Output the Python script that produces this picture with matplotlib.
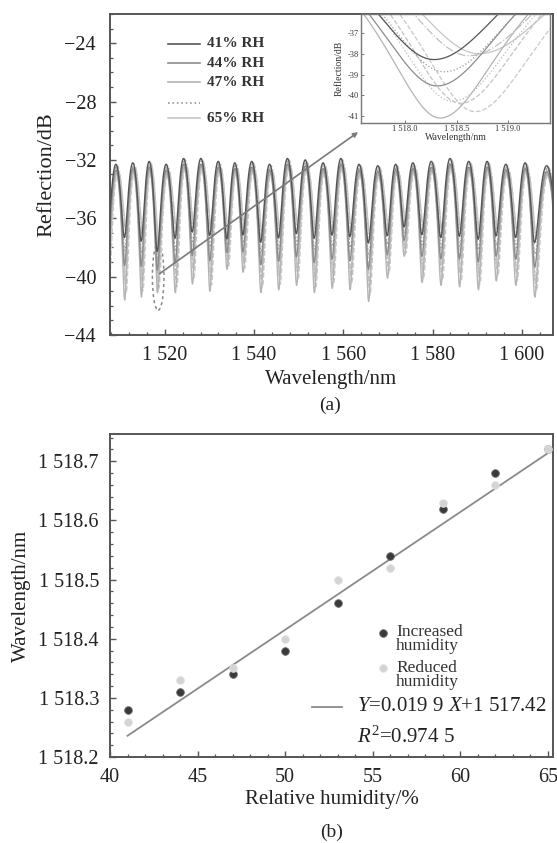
import numpy as np
import matplotlib
matplotlib.use("Agg")
import matplotlib.pyplot as plt
from matplotlib.ticker import MultipleLocator
from matplotlib.patches import Ellipse

plt.rcParams['font.family'] = ['Liberation Serif', 'DejaVu Serif']
plt.rcParams['mathtext.fontset'] = 'custom'
plt.rcParams['mathtext.rm'] = 'Liberation Serif'
plt.rcParams['mathtext.it'] = 'Liberation Serif:italic'

# ---------------- data: panel (a) ----------------
# dip (notch) wavelengths of the 41 % RH spectrum, nm (first/last lie just outside the window)
dip_wl = [1507.10, 1510.94, 1514.69, 1518.28, 1522.29, 1526.12, 1530.04, 1533.88,
          1537.48, 1541.47, 1545.47, 1549.47, 1553.46, 1557.46, 1561.46, 1565.61,
          1569.85, 1573.61, 1577.60, 1581.84, 1586.00, 1590.23, 1594.23, 1598.63,
          1602.86, 1608.30]
# deepest notch level seen at each dip, dB
dip_deep = [-41.0, -41.6, -41.4, -41.1, -41.1, -40.5, -41.0, -39.5, -39.7, -41.1,
            -40.9, -40.6, -41.1, -40.8, -40.9, -41.7, -40.1, -38.6, -40.4, -40.6,
            -40.7, -40.9, -40.3, -40.6, -41.4, -41.0]
# shallowest notch level seen at each dip, dB
dip_shallow = [-37.0, -36.9, -37.2, -38.0, -37.0, -36.6, -36.8, -37.2, -36.9, -37.3,
               -37.0, -36.7, -37.0, -36.8, -36.9, -37.3, -36.9, -36.4, -36.8, -37.0,
               -36.9, -37.1, -36.9, -37.0, -37.3, -37.0]
# peak level between consecutive dips, dB
peak_db = [-32.3, -32.2, -32.1, -32.3, -31.9, -31.9, -32.1, -32.2, -32.1, -32.3,
           -31.9, -32.0, -32.2, -31.9, -32.3, -32.4, -32.3, -32.2, -32.1, -31.9,
           -32.1, -32.1, -32.3, -32.2, -32.4]
rh_levels = [41, 44, 47, 50, 53, 56, 59, 62, 65]
# position of each curve's notch depth between shallow(0) and deep(1)
curve_depth_frac = [0.09, 0.50, 1.00, 0.28, 0.74, 0.77, 0.03, 0.90, 0.00]
curve_peak_offset = [0.0, -0.4, -0.6, -0.2, -0.5, -0.3, -0.1, -0.6, -0.4]
curve_colors = ['#555555', '#8c8c8c', '#b4b4b4', '#9a9a9a', '#bdbdbd', '#c2c2c2',
                '#c0c0c0', '#c8c8c8', '#c6c6c6']
curve_styles = ['-', '-', '-', ':', ':', '--', '-.', '--', '-']
legend_labels = ['41% RH', '44% RH', '47% RH', '', '65% RH']
legend_idx = [0, 1, 2, 3, 8]

a_xticks = [1520, 1540, 1560, 1580, 1600]
a_xticklabels = ['1 520', '1 540', '1 560', '1 580', '1 600']
a_yticks = [-44, -40, -36, -32, -28, -24]
a_yticklabels = ['\u221244', '\u221240', '\u221236', '\u221232', '\u221228', '\u221224']
in_xticks = [1518.0, 1518.5, 1519.0]
in_xticklabels = ['1 518.0', '1 518.5', '1 519.0']
in_yticks = [-41, -40, -39, -38, -37]
in_yticklabels = ['-41', '-40', '-39', '-38', '-37']

# ---------------- data: panel (b) ----------------
rh = [41, 44, 47, 50, 53, 56, 59, 62, 65]
wl_increase = [1518.28, 1518.31, 1518.34, 1518.38, 1518.46, 1518.54, 1518.62, 1518.68, 1518.72]
wl_reduce = [1518.26, 1518.33, 1518.35, 1518.40, 1518.50, 1518.52, 1518.63, 1518.66, 1518.72]
fit_slope, fit_intercept = 0.0199, 1517.42
fit_x = [41.0, 65.0]
b_xticks = [40, 45, 50, 55, 60, 65]
b_xticklabels = ['40', '45', '50', '55', '60', '65']
b_yticks = [1518.2, 1518.3, 1518.4, 1518.5, 1518.6, 1518.7]
b_yticklabels = ['1 518.2', '1 518.3', '1 518.4', '1 518.5', '1 518.6', '1 518.7']


def spectrum(lam, dips, rmin_db, rmax_db):
    dips = np.asarray(dips)
    rmin_db = np.asarray(rmin_db)
    rmax_db = np.asarray(rmax_db)
    idx = np.clip(np.searchsorted(dips, lam) - 1, 0, len(dips) - 2)
    d0, d1 = dips[idx], dips[idx + 1]
    t = (lam - d0) / (d1 - d0)
    s = np.sin(np.pi * t) ** 2
    near = np.where(t < 0.5, rmin_db[idx], rmin_db[idx + 1])
    lmin = 10 ** (near / 10)
    lmax = 10 ** (rmax_db[idx] / 10)
    return 10 * np.log10(lmin + (lmax - lmin) * s)


def curve_params(k):
    shift = wl_increase[k] - wl_increase[0]
    dips = np.asarray(dip_wl) + shift
    rmin = np.asarray(dip_shallow) + (np.asarray(dip_deep) - np.asarray(dip_shallow)) * curve_depth_frac[k]
    rmax = np.asarray(peak_db) + curve_peak_offset[k]
    return dips, rmin, rmax


TXT = '#222222'
SP = '#555555'

fig = plt.figure(figsize=(5.57, 8.43), dpi=100)
ax1 = fig.add_axes([110 / 557, 1 - 335 / 843, 443 / 557, 321 / 843])
ax2 = fig.add_axes([110 / 557, 1 - 757 / 843, 443 / 557, 323 / 843])
axin = fig.add_axes([361 / 557, 1 - 123 / 843, 189 / 557, 109 / 843])

# ---------- panel (a) main ----------
xlo, xhi = 1507.7, 1607.0
lam = np.linspace(xlo, xhi, 40000)
order = [8, 7, 6, 5, 4, 3, 2, 1, 0]
for k in order:
    dips, rmin, rmax = curve_params(k)
    ax1.plot(lam, spectrum(lam, dips, rmin, rmax), color=curve_colors[k],
             ls=curve_styles[k], lw=1.0)
ax1.set_xlim(xlo, xhi)
ax1.set_ylim(-44, -22)
ax1.set_xticks(a_xticks)
ax1.set_xticklabels(a_xticklabels)
ax1.set_yticks(a_yticks)
ax1.set_yticklabels(a_yticklabels)
ax1.xaxis.set_minor_locator(MultipleLocator(4))
ax1.yaxis.set_minor_locator(MultipleLocator(1))
ax1.set_xlabel('Wavelength/nm', fontsize=15, color=TXT)
ax1.set_ylabel('Reflection/dB', fontsize=16, color=TXT)
ax1.xaxis.set_label_coords(0.5, -0.108)
ax1.yaxis.set_label_coords(-0.122, 0.5)

# legend of panel (a)
rows_y = [0.907, 0.847, 0.788, 0.723, 0.676]
for lab, k, yy in zip(legend_labels, legend_idx, rows_y):
    ax1.plot([0.131, 0.203], [yy, yy], transform=ax1.transAxes, color=curve_colors[k],
             ls=curve_styles[k], lw=1.2, clip_on=False)
    if lab:
        ax1.text(0.219, yy, lab, transform=ax1.transAxes, fontsize=11, fontweight='bold',
                 va='center', ha='left', color='#333333')

# ellipse + zoom arrow
ax1.add_patch(Ellipse((1518.5, -40.0), 2.6, 4.6, fill=False, ls=(0, (2, 2)),
                      ec='#888888', lw=1.1))
ax1.annotate('', xy=(0.56, 0.632), xycoords='axes fraction',
             xytext=(1518.8, -39.8), textcoords='data',
             arrowprops=dict(arrowstyle='-|>', color='#7a7a7a', lw=1.2, mutation_scale=7,
                             shrinkA=0, shrinkB=0))

# ---------- inset ----------
ilo, ihi = 1517.57, 1519.41
lam_i = np.linspace(ilo, ihi, 1500)
for k in order:
    dips, rmin, rmax = curve_params(k)
    axin.plot(lam_i, spectrum(lam_i, dips, rmin, rmax), color=curve_colors[k],
              ls=curve_styles[k], lw=0.9)
axin.set_xlim(ilo, ihi)
axin.set_ylim(-41.34, -36.08)
axin.set_xticks(in_xticks)
axin.set_xticklabels(in_xticklabels)
axin.set_yticks(in_yticks)
axin.set_yticklabels(in_yticklabels)
axin.tick_params(direction='in', length=2, width=0.7, labelsize=6, pad=1.5,
                 colors='#777777', labelcolor='#333333')
axin.set_xlabel('Wavelength/nm', fontsize=7, color='#333333', labelpad=0)
axin.set_ylabel('Reflection/dB', fontsize=7, color='#333333', labelpad=3)
axin.set_facecolor('white')
for s in axin.spines.values():
    s.set_color('#777777')
    s.set_linewidth(1.0)

# ---------- panel (b) ----------
fx = np.asarray(fit_x)
ax2.plot(fx, fit_slope * fx + fit_intercept, color='#8a8a8a', lw=1.3, zorder=2)
ax2.plot(rh, wl_increase, 'o', ms=5.5, color='#3a3a3a', mec='#6a6a6a', mew=0.6, zorder=3)
ax2.plot(rh, wl_reduce, 'o', ms=5.5, color='#d4d4d4', mec='#dedede', mew=0.6, zorder=4)
ax2.set_xlim(40, 65.3)
ax2.set_ylim(1518.2, 1518.746)
ax2.set_xticks(b_xticks)
ax2.set_xticklabels(b_xticklabels)
ax2.set_yticks(b_yticks)
ax2.set_yticklabels(b_yticklabels)
ax2.xaxis.set_minor_locator(MultipleLocator(1))
ax2.yaxis.set_minor_locator(MultipleLocator(0.02))
ax2.set_xlabel('Relative humidity/%', fontsize=15, color=TXT)
ax2.set_ylabel('Wavelength/nm', fontsize=15, color=TXT)
ax2.xaxis.set_label_coords(0.5, -0.103)
ax2.yaxis.set_label_coords(-0.178, 0.5)

# legend of panel (b)
T = ax2.transAxes
ax2.plot([0.616], [0.384], 'o', ms=5.5, color='#3a3a3a', mec='#6a6a6a', mew=0.6,
         transform=T, clip_on=False)
ax2.text(0.646, 0.366, 'Increased\nhumidity', transform=T, fontsize=12.5, va='center',
         ha='left', linespacing=0.8, color='#333333')
ax2.plot([0.616], [0.276], 'o', ms=5.5, color='#d4d4d4', mec='#dedede', mew=0.6,
         transform=T, clip_on=False)
ax2.text(0.646, 0.254, 'Reduced\nhumidity', transform=T, fontsize=12.5, va='center',
         ha='left', linespacing=0.8, color='#333333')
ax2.plot([0.456, 0.524], [0.155, 0.155], color='#8a8a8a', lw=1.3, transform=T)
ax2.text(0.558, 0.155, '$Y$=0.019 9 $X$+1 517.42', transform=T, fontsize=15,
         va='center', ha='left', color=TXT)
ax2.text(0.558, 0.062, '$R^2$=0.974 5', transform=T, fontsize=15,
         va='center', ha='left', color=TXT)

for ax, ypad in ((ax1, 10), (ax2, 8)):
    ax.tick_params(which='both', direction='in', top=False, right=False, colors=SP,
                   labelcolor=TXT, labelsize=14.5)
    ax.tick_params(which='major', length=4, width=1.0)
    ax.tick_params(which='minor', length=2.2, width=0.9)
    ax.tick_params(axis='y', pad=ypad)
    ax.tick_params(axis='x', pad=8)
    for s in ax.spines.values():
        s.set_color(SP)
        s.set_linewidth(1.4)

fig.text(0.593, 1 - 405 / 843, '(a)', fontsize=14, ha='center', va='center', color=TXT)
fig.text(0.596, 1 - 832 / 843, '(b)', fontsize=14, ha='center', va='center', color=TXT)

fig.savefig('out.png', dpi=100, facecolor='white')
